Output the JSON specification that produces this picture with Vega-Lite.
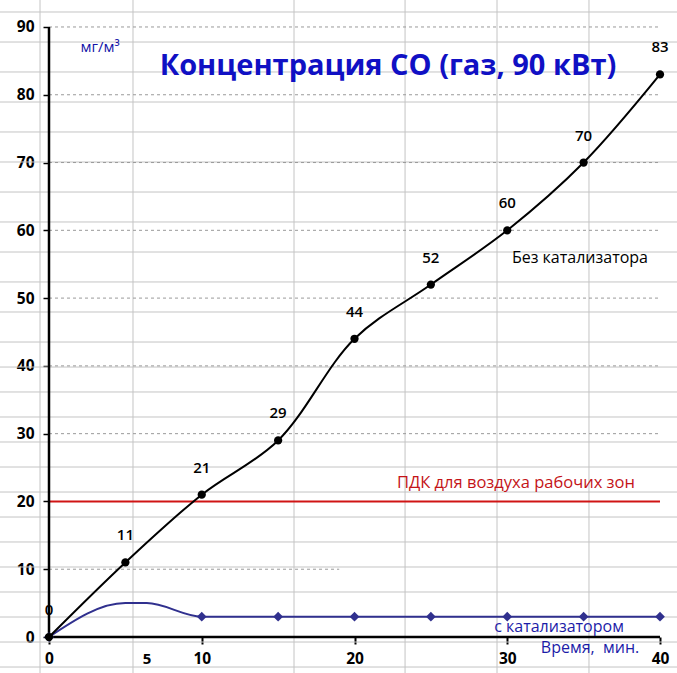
{
  "$schema": "https://vega.github.io/schema/vega-lite/v6.json",
  "width": 677,
  "height": 673,
  "padding": 0,
  "autosize": {"type": "none"},
  "background": "white",
  "config": {
    "view": {"stroke": null},
    "font": "Open Sans",
    "axis": {"grid": false, "domain": false, "ticks": false, "labels": false, "title": null}
  },
  "data": {"values": [{"one": 1}]},
  "datasets": {
    "black": [
      {"t": 0, "v": 0}, {"t": 5, "v": 11}, {"t": 10, "v": 21}, {"t": 15, "v": 29},
      {"t": 20, "v": 44}, {"t": 25, "v": 52}, {"t": 30, "v": 60}, {"t": 35, "v": 70}, {"t": 40, "v": 83}
    ],
    "blue": [
      {"t": 0, "v": 0, "m": 1}, {"t": 5, "v": 5, "m": 0}, {"t": 6.4, "v": 5, "m": 0}, {"t": 10, "v": 3, "m": 1},
      {"t": 15, "v": 3, "m": 1}, {"t": 20, "v": 3, "m": 1}, {"t": 25, "v": 3, "m": 1}, {"t": 30, "v": 3, "m": 1},
      {"t": 35, "v": 3, "m": 1}, {"t": 40, "v": 3, "m": 1}
    ],
    "rows": [
      {"gy": 92.21}, {"gy": 87.78}, {"gy": 83.36}, {"gy": 78.93}, {"gy": 74.51}, {"gy": 70.08},
      {"gy": 65.65}, {"gy": 61.23}, {"gy": 56.8}, {"gy": 52.38}, {"gy": 47.95}, {"gy": 43.52},
      {"gy": 39.83}, {"gy": 36.15}, {"gy": 32.46}, {"gy": 28.77}, {"gy": 25.08}, {"gy": 21.39},
      {"gy": 17.7}, {"gy": 14.02}, {"gy": 10.33}, {"gy": 6.64}, {"gy": 2.95}, {"gy": -0.74}, {"gy": -4.43}
    ],
    "cols": [
      {"gx": -0.589}, {"gx": 5.499}, {"gx": 16.04}, {"gx": 23.31}, {"gx": 29.33}, {"gx": 35.35}
    ],
    "grid": [
      {"g": 10, "start": 0, "end": 19}, {"g": 30, "start": 0, "end": 40}, {"g": 40, "start": 0, "end": 40},
      {"g": 50, "start": 0, "end": 40}, {"g": 60, "start": 0, "end": 40}, {"g": 70, "start": 0, "end": 40},
      {"g": 80, "start": 0, "end": 40}, {"g": 90, "start": 0, "end": 40}
    ],
    "limit": [{"t1": 0, "t2": 40, "v1": 20, "v2": 20}],
    "frame": [
      {"t1": 0, "t2": 0, "v1": 0, "v2": 90},
      {"t1": 0, "t2": 40, "v1": 0, "v2": 0}
    ]
  },
  "layer": [
    {
      "data": {"name": "rows"},
      "mark": {"type": "rule", "color": "#c4c4c4", "strokeWidth": 1},
      "encoding": {
        "y": {"field": "gy", "type": "quantitative", "scale": {"domain": [-5.311, 93.98], "nice": false, "zero": false}}
      }
    },
    {
      "data": {"name": "cols"},
      "mark": {"type": "rule", "color": "#c4c4c4", "strokeWidth": 1},
      "encoding": {
        "x": {"field": "gx", "type": "quantitative", "scale": {"domain": [-3.208, 41.113], "nice": false, "zero": false}}
      }
    },
    {
      "data": {"name": "grid"},
      "mark": {"type": "rule", "color": "#9a9a9a", "strokeWidth": 1, "strokeDash": [3, 3]},
      "encoding": {
        "y": {"field": "g", "type": "quantitative", "scale": {"domain": [-5.311, 93.98], "nice": false, "zero": false}},
        "x": {"field": "start", "type": "quantitative", "scale": {"domain": [-3.208, 41.113], "nice": false, "zero": false}},
        "x2": {"field": "end"}
      }
    },
    {
      "data": {"name": "limit"},
      "mark": {"type": "rule", "color": "#d01414", "strokeWidth": 2},
      "encoding": {
        "x": {"field": "t1", "type": "quantitative", "scale": {"domain": [-3.208, 41.113], "nice": false, "zero": false}},
        "x2": {"field": "t2"},
        "y": {"field": "v1", "type": "quantitative", "scale": {"domain": [-5.311, 93.98], "nice": false, "zero": false}},
        "y2": {"field": "v2"}
      }
    },
    {
      "data": {"name": "frame"},
      "mark": {"type": "rule", "color": "black", "strokeWidth": 2.5},
      "encoding": {
        "x": {"field": "t1", "type": "quantitative", "scale": {"domain": [-3.208, 41.113], "nice": false, "zero": false}},
        "x2": {"field": "t2"},
        "y": {"field": "v1", "type": "quantitative", "scale": {"domain": [-5.311, 93.98], "nice": false, "zero": false}},
        "y2": {"field": "v2"}
      }
    },
    {
      "data": {"name": "blue"},
      "mark": {"type": "line", "color": "#30308e", "strokeWidth": 2, "interpolate": "monotone"},
      "encoding": {
        "x": {"field": "t", "type": "quantitative", "scale": {"domain": [-3.208, 41.113], "nice": false, "zero": false}},
        "y": {"field": "v", "type": "quantitative", "scale": {"domain": [-5.311, 93.98], "nice": false, "zero": false}}
      }
    },
    {
      "data": {"name": "blue"},
      "transform": [{"filter": "datum.m == 1"}],
      "mark": {"type": "point", "shape": "diamond", "filled": true, "color": "#30308e", "size": 95, "opacity": 1},
      "encoding": {
        "x": {"field": "t", "type": "quantitative", "scale": {"domain": [-3.208, 41.113], "nice": false, "zero": false}},
        "y": {"field": "v", "type": "quantitative", "scale": {"domain": [-5.311, 93.98], "nice": false, "zero": false}}
      }
    },
    {
      "data": {"name": "black"},
      "mark": {"type": "line", "color": "black", "strokeWidth": 2, "interpolate": "catmull-rom"},
      "encoding": {
        "x": {"field": "t", "type": "quantitative", "scale": {"domain": [-3.208, 41.113], "nice": false, "zero": false},
          "axis": {"orient": "bottom", "offset": -36, "values": [0, 10, 20, 30, 40], "domain": false, "grid": false,
            "ticks": true, "labels": true,
            "tickColor": "black", "tickWidth": 2, "tickSize": 7, "labelPadding": 7, "labelFont": "Open Sans",
            "labelFontWeight": "bold", "labelFontSize": 15.5, "labelColor": "black", "labelFlush": false,
            "labelOverlap": false, "labelBound": false, "title": null}},
        "y": {"field": "v", "type": "quantitative", "scale": {"domain": [-5.311, 93.98], "nice": false, "zero": false},
          "axis": {"orient": "left", "offset": -49, "values": [0, 10, 20, 30, 40, 50, 60, 70, 80, 90], "domain": false, "grid": false,
            "ticks": true, "labels": true,
            "tickColor": "black", "tickWidth": 1.5, "tickSize": 6, "labelPadding": 9, "labelFont": "Open Sans",
            "labelFontWeight": "bold", "labelFontSize": 15.5, "labelColor": "black", "labelFlush": false,
            "labelOverlap": false, "labelBound": false, "title": null}}
      }
    },
    {
      "data": {"name": "black"},
      "mark": {"type": "point", "shape": "circle", "filled": true, "color": "black", "size": 68, "opacity": 1},
      "encoding": {
        "x": {"field": "t", "type": "quantitative", "scale": {"domain": [-3.208, 41.113], "nice": false, "zero": false}},
        "y": {"field": "v", "type": "quantitative", "scale": {"domain": [-5.311, 93.98], "nice": false, "zero": false}}
      }
    },
    {
      "data": {"name": "black"},
      "mark": {"type": "text", "dy": -27, "font": "Open Sans", "fontSize": 15, "fontWeight": 600, "color": "black", "baseline": "middle", "align": "center"},
      "encoding": {
        "x": {"field": "t", "type": "quantitative", "scale": {"domain": [-3.208, 41.113], "nice": false, "zero": false}},
        "y": {"field": "v", "type": "quantitative", "scale": {"domain": [-5.311, 93.98], "nice": false, "zero": false}},
        "text": {"field": "v", "type": "quantitative"}
      }
    },
    {
      "mark": {"type": "text", "font": "Open Sans", "fontSize": 29, "fontWeight": "bold", "color": "#1010c4", "baseline": "middle", "align": "center"},
      "encoding": {
        "x": {"datum": 22.19, "type": "quantitative", "scale": {"domain": [-3.208, 41.113], "nice": false, "zero": false}},
        "y": {"datum": 84.24, "type": "quantitative", "scale": {"domain": [-5.311, 93.98], "nice": false, "zero": false}},
        "text": {"value": "Концентрация CO (газ, 90 кВт)"}
      }
    },
    {
      "mark": {"type": "text", "font": "Open Sans", "fontSize": 15, "color": "#1414a8", "baseline": "middle", "align": "center"},
      "encoding": {
        "x": {"datum": 3.34, "type": "quantitative", "scale": {"domain": [-3.208, 41.113], "nice": false, "zero": false}},
        "y": {"datum": 87.0, "type": "quantitative", "scale": {"domain": [-5.311, 93.98], "nice": false, "zero": false}},
        "text": {"value": "мг/м³"}
      }
    },
    {
      "mark": {"type": "text", "font": "Open Sans", "fontSize": 16, "color": "black", "baseline": "middle", "align": "center"},
      "encoding": {
        "x": {"datum": 34.76, "type": "quantitative", "scale": {"domain": [-3.208, 41.113], "nice": false, "zero": false}},
        "y": {"datum": 55.92, "type": "quantitative", "scale": {"domain": [-5.311, 93.98], "nice": false, "zero": false}},
        "text": {"value": "Без катализатора"}
      }
    },
    {
      "mark": {"type": "text", "font": "Open Sans", "fontSize": 16.5, "color": "#c41418", "baseline": "middle", "align": "center"},
      "encoding": {
        "x": {"datum": 30.57, "type": "quantitative", "scale": {"domain": [-3.208, 41.113], "nice": false, "zero": false}},
        "y": {"datum": 22.72, "type": "quantitative", "scale": {"domain": [-5.311, 93.98], "nice": false, "zero": false}},
        "text": {"value": "ПДК для воздуха рабочих зон"}
      }
    },
    {
      "mark": {"type": "text", "font": "Open Sans", "fontSize": 16, "color": "#1c1ca8", "baseline": "middle", "align": "center"},
      "encoding": {
        "x": {"datum": 33.39, "type": "quantitative", "scale": {"domain": [-3.208, 41.113], "nice": false, "zero": false}},
        "y": {"datum": 1.48, "type": "quantitative", "scale": {"domain": [-5.311, 93.98], "nice": false, "zero": false}},
        "text": {"value": "с катализатором"}
      }
    },
    {
      "mark": {"type": "text", "font": "Open Sans", "fontSize": 16, "color": "#1c1ca8", "baseline": "middle", "align": "center"},
      "encoding": {
        "x": {"datum": 35.42, "type": "quantitative", "scale": {"domain": [-3.208, 41.113], "nice": false, "zero": false}},
        "y": {"datum": -1.62, "type": "quantitative", "scale": {"domain": [-5.311, 93.98], "nice": false, "zero": false}},
        "text": {"value": "Время,\u00a0 мин."}
      }
    },
    {
      "mark": {"type": "text", "font": "Open Sans", "fontSize": 15, "fontWeight": "bold", "color": "black", "baseline": "middle", "align": "center"},
      "encoding": {
        "x": {"datum": 6.42, "type": "quantitative", "scale": {"domain": [-3.208, 41.113], "nice": false, "zero": false}},
        "y": {"datum": -3.2, "type": "quantitative", "scale": {"domain": [-5.311, 93.98], "nice": false, "zero": false}},
        "text": {"value": "5"}
      }
    }
  ]
}
